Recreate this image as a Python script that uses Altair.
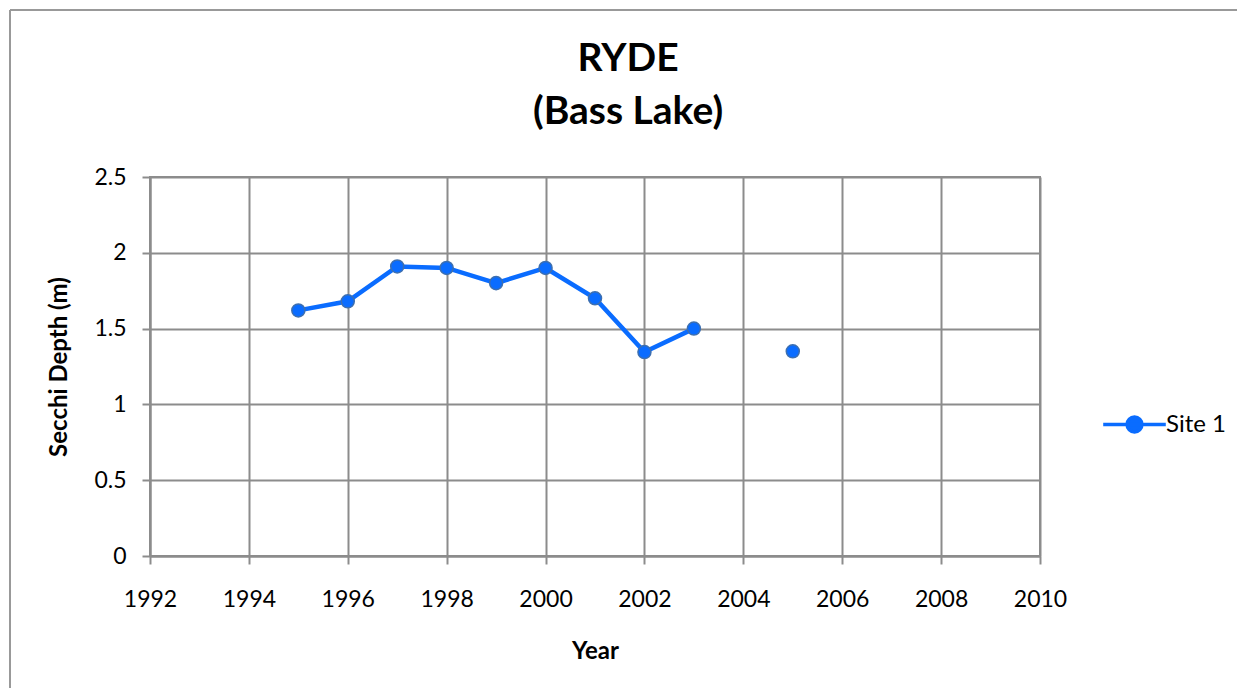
import altair as alt
import pandas as pd

years = [1995, 1996, 1997, 1998, 1999, 2000, 2001, 2002, 2003, 2004, 2005]
depths = [1.62, 1.68, 1.91, 1.90, 1.80, 1.90, 1.70, 1.345, 1.50, None, 1.35]
series = "Site 1"
x_ticks = list(range(1992, 2011, 2))
y_ticks = [0, 0.5, 1, 1.5, 2, 2.5]

seg = 0
segs = []
for d in depths:
    if d is None:
        seg += 1
    segs.append(seg)
df = pd.DataFrame({"Year": years, "Depth": depths, "Series": series, "seg": segs})
df = df.dropna()

FONT = "Lato"
BLUE = "#0A6CFF"
GRID = "#8c8c8c"

x = alt.X("Year:Q", scale=alt.Scale(domain=[1992, 2010], nice=False),
          axis=alt.Axis(values=x_ticks, format="d", title="Year", titlePadding=28, labelFlush=False))
y = alt.Y("Depth:Q", scale=alt.Scale(domain=[0, 2.5], nice=False),
          axis=alt.Axis(values=y_ticks, format="~g", title="Secchi Depth (m)", titlePadding=22))
color = alt.Color("Series:N", scale=alt.Scale(range=[BLUE]),
                  legend=alt.Legend(title=None, orient="none", legendX=963, legendY=226,
                                    symbolType="M-1.6,0L1.6,0M-0.38,0a0.38,0.38 0 1,0 0.76,0a0.38,0.38 0 1,0 -0.76,0",
                                    symbolSize=1530, symbolStrokeWidth=3.5, symbolFillColor=BLUE,
                                    symbolStrokeColor=BLUE, labelFontSize=24, labelFont=FONT,
                                    labelColor="black", labelOffset=10))

base = alt.Chart(df)
line = base.mark_line(strokeWidth=4.5).encode(x=x, y=y, color=color, detail="seg:N")
pts = base.mark_point(filled=True, size=170, opacity=1, stroke="#3d6fb0", strokeWidth=1.5, fill=BLUE).encode(
    x=x, y=y, color=alt.Color("Series:N", scale=alt.Scale(range=[BLUE]), legend=None))

dummy = pd.DataFrame({"a": [0]})
left_edge = alt.Chart(dummy).mark_rule(color="#999999", strokeWidth=2).encode(
    x=alt.value(-140), y=alt.value(-167), y2=alt.value(540))
top_edge = alt.Chart(dummy).mark_rule(color="#999999", strokeWidth=2).encode(
    x=alt.value(-140), x2=alt.value(1110), y=alt.value(-167))

chart = alt.layer(left_edge, top_edge, line, pts).properties(
    width=890, height=379,
    title=alt.TitleParams(["RYDE", "(Bass Lake)"], anchor="middle", dx=33, offset=-123,
                          fontSize=39, font=FONT, fontWeight="bold", lineHeight=53, color="black"),
    autosize=alt.AutoSizeParams(type="none"),
    padding={"left": 142, "top": 169, "right": 197, "bottom": 132},
).configure_axis(
    grid=True, gridColor=GRID, gridWidth=2, gridOpacity=1,
    domainColor=GRID, domainWidth=2, tickColor=GRID, tickWidth=2, tickSize=8,
    labelFont=FONT, labelFontSize=23, labelColor="black", labelPadding=6,
    titleFont=FONT, titleFontSize=24, titleFontWeight="bold", titleColor="black",
).configure_axisX(labelPadding=24).configure_axisY(labelPadding=16).configure_view(
    stroke=GRID, strokeWidth=2
)

chart.save("out.html", embed_options={"renderer": "svg", "actions": False})
